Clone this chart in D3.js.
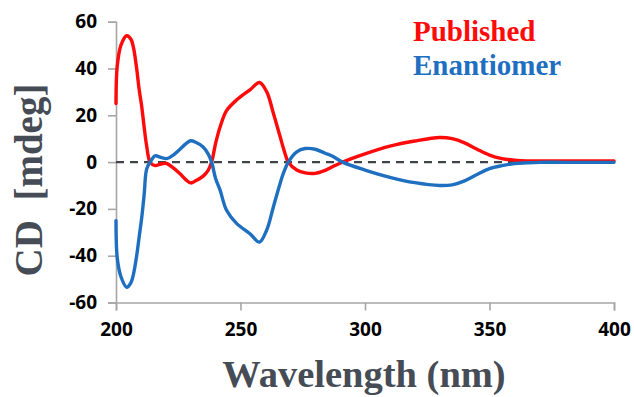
<!DOCTYPE html>
<html>
<head>
<meta charset="utf-8">
<script src="https://cdn.jsdelivr.net/npm/d3@7"></script>
<style>
  html, body { margin: 0; padding: 0; background: #fff; }
  svg { display: block; }
</style>
</head>
<body>
<svg id="chart" width="634" height="397"></svg>
<script>
// ---- data ----
const wavelengths = [200, 200.5, 202, 204.3, 206, 207, 208.3, 209.3, 210.3, 211.3, 212.3, 213.7, 215.7, 218, 220.4, 223, 225.7, 228, 230, 232, 235, 237, 238.4, 240, 241.8, 244.4, 248.5, 253.8, 257.6, 260.5, 263.2, 265.9, 267.5, 269.2, 272.6, 276, 280, 284, 287, 291, 300, 310, 320, 330, 335, 340, 345, 350, 355, 360, 365, 370, 380, 390, 400];
const published = [25, 41, 50, 54, 52.5, 49, 40, 31, 24, 15, 7, 0, -1.5, -0.8, -0.6, -2.5, -5, -7.5, -8.9, -8, -6, -3.5, 0, 8, 15, 22, 26.6, 30.9, 34, 30.1, 20.9, 10.9, 5, 0, -3.4, -4.6, -4.8, -3.5, -2, 0, 3.5, 6.8, 9, 10.5, 10, 8.2, 5.5, 3, 1.5, 0.8, 0.5, 0.5, 0.5, 0.5, 0.5];
const enantiomer = [-25, -41, -49, -53.5, -51.5, -48, -40, -32, -24, -14, -3, 0, 2.7, 2, 1.5, 3, 5.5, 7.8, 9.1, 8.5, 6.5, 3.5, 0, -7, -12, -20.6, -26.3, -30.6, -34.2, -29.1, -19.2, -9.1, -4, 0, 4.4, 5.8, 5.5, 3.8, 2.5, 0, -3.4, -6.5, -8.8, -10, -9.7, -8, -5.3, -2.8, -1.5, -0.6, -0.3, -0.1, -0.1, -0.1, -0.1];
const xTicks = [200, 250, 300, 350, 400];
const yTicks = [-60, -40, -20, 0, 20, 40, 60];
const seriesNames = ["Published", "Enantiomer"];
const seriesColors = ["#ff0a0a", "#1f6fc1"];

// ---- layout ----
const svg = d3.select("#chart");
const x = d3.scaleLinear().domain([200, 400]).range([116, 614]);
const y = d3.scaleLinear().domain([-60, 60]).range([302.5, 21.7]);

const axisColor = "#a6a6a6";
const tickFont = "'Open Sans', 'Liberation Sans', sans-serif";
const titleFont = "'Liberation Serif', 'Times New Roman', serif";
const titleColor = "#464c55";

// y axis
const yAxis = svg.append("g").attr("transform", `translate(${x(200)},0)`)
  .call(d3.axisLeft(y).tickValues(yTicks).tickSize(8).tickPadding(11).tickFormat(d3.format("d")));
yAxis.select(".domain").attr("stroke", axisColor).attr("stroke-width", 1.6);
yAxis.selectAll(".tick line").attr("stroke", axisColor).attr("stroke-width", 1.6);
yAxis.selectAll(".tick text").attr("fill", "#000").style("font-family", tickFont)
  .style("font-weight", 700).style("font-size", "19px").text(d => d < 0 ? "-" + Math.abs(d) : d);

// x axis
const xAxis = svg.append("g").attr("transform", `translate(0,${y(-60)})`)
  .call(d3.axisBottom(x).tickValues(xTicks).tickSize(8).tickPadding(12).tickFormat(d3.format("d")));
xAxis.select(".domain").attr("stroke", axisColor).attr("stroke-width", 1.6);
xAxis.selectAll(".tick line").attr("stroke", axisColor).attr("stroke-width", 1.6);
xAxis.selectAll(".tick text").attr("fill", "#000").style("font-family", tickFont)
  .style("font-weight", 700).style("font-size", "19px");

// zero dashed line
svg.append("line")
  .attr("x1", x(200)).attr("x2", x(400)).attr("y1", y(0)).attr("y2", y(0))
  .attr("stroke", "#404348").attr("stroke-width", 2.2).attr("stroke-dasharray", "8,6");

// series lines
const line = d3.line().x(d => x(d[0])).y(d => y(d[1])).curve(d3.curveCatmullRom.alpha(0.5));
[published, enantiomer].forEach((vals, i) => {
  svg.append("path")
    .datum(wavelengths.map((w, j) => [w, vals[j]]))
    .attr("fill", "none")
    .attr("stroke", seriesColors[i])
    .attr("stroke-width", 3.4)
    .attr("stroke-linejoin", "round")
    .attr("stroke-linecap", "round")
    .attr("d", line);
});

// legend
seriesNames.forEach((name, i) => {
  svg.append("text")
    .attr("x", 413).attr("y", 41 + i * 34)
    .attr("fill", seriesColors[i])
    .style("font-family", titleFont).style("font-weight", 700).style("font-size", "29px")
    .text(name);
});

// axis titles
svg.append("text")
  .attr("x", 364).attr("y", 387).attr("text-anchor", "middle")
  .attr("fill", titleColor)
  .style("font-family", titleFont).style("font-weight", 700).style("font-size", "38.5px")
  .text("Wavelength (nm)");

svg.append("text")
  .attr("transform", "translate(42,180) rotate(-90)")
  .attr("text-anchor", "middle")
  .attr("fill", titleColor)
  .style("font-family", titleFont).style("font-weight", 700).style("font-size", "39px")
  .text("CD\u00a0\u00a0[mdeg]");
</script>
</body>
</html>
